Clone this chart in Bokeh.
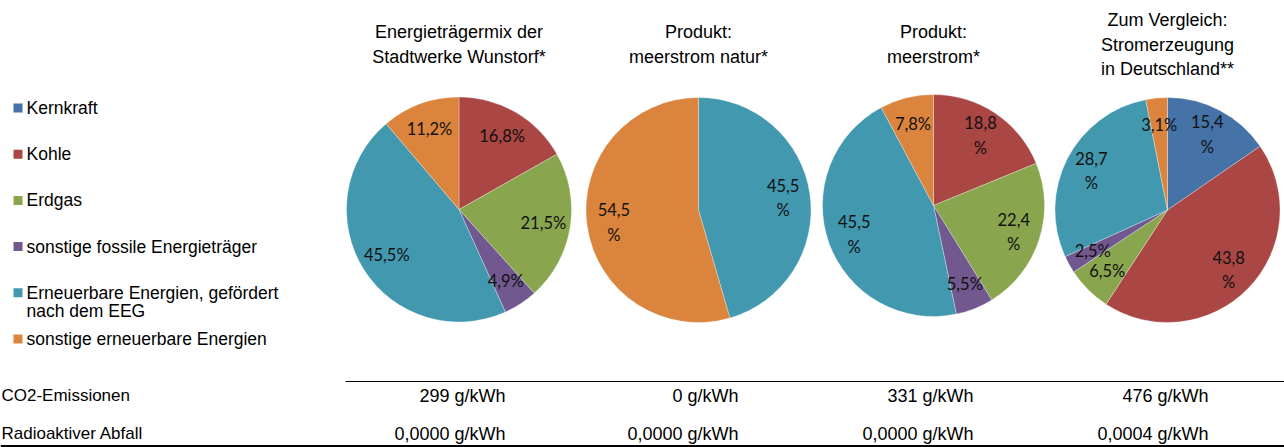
import math
from bokeh.plotting import figure
from bokeh.models import Range1d, ColumnDataSource
from bokeh.core.properties import value
from bokeh.embed import file_html
from bokeh.resources import INLINE

# ---------------- data ----------------
categories = ["Kernkraft", "Kohle", "Erdgas", "sonstige fossile Energieträger",
              "Erneuerbare Energien, gefördert\nnach dem EEG",
              "sonstige erneuerbare Energien"]
colors = ["#4572A7", "#AA4643", "#89A54E", "#71588F", "#4198AF", "#DB843D"]

titles = ["Energieträgermix der\nStadtwerke Wunstorf*",
          "Produkt:\nmeerstrom natur*",
          "Produkt:\nmeerstrom*",
          "Zum Vergleich:\nStromerzeugung\nin Deutschland**"]

mix_wunstorf = [0.0, 16.8, 21.5, 4.9, 45.5, 11.2]
meerstrom_natur = [0.0, 0.0, 0.0, 0.0, 45.5, 54.5]
meerstrom = [0.0, 18.8, 22.4, 5.5, 45.5, 7.8]
deutschland = [15.4, 43.8, 6.5, 2.5, 28.7, 3.1]

# whether the "%" of a data label wraps onto a second line
wrap_wunstorf = [False, False, False, False, False, False]
wrap_natur = [False, False, False, False, True, True]
wrap_meerstrom = [False, True, True, False, True, False]
wrap_deutschland = [True, True, False, False, True, False]

row_labels = ["CO2-Emissionen", "Radioaktiver Abfall"]
co2_values = ["299 g/kWh", "0 g/kWh", "331 g/kWh", "476 g/kWh"]
waste_values = ["0,0000 g/kWh", "0,0000 g/kWh", "0,0000 g/kWh", "0,0004 g/kWh"]

pies = [mix_wunstorf, meerstrom_natur, meerstrom, deutschland]
wraps = [wrap_wunstorf, wrap_natur, wrap_meerstrom, wrap_deutschland]

# ---------------- layout ----------------
W, H = 1284, 447
centers = [(458.5, 209.0), (698.0, 209.5), (933.0, 205.0), (1167.0, 209.5)]
radii = [112.5, 112.5, 111.0, 112.5]
label_k = 0.76
title_mid_y = 44.0
value_right_x = [505, 738, 973, 1208]
row_y = [395, 433]
row_label_x = 1

TITLE_FONT = value("Liberation Sans")
LABEL_FONT = value("Lato")


def Y(py):
    return H - py


p = figure(width=W, height=H, x_range=Range1d(0, W), y_range=Range1d(0, H),
           output_backend="svg", toolbar_location=None,
           x_axis_location=None, y_axis_location=None, min_border=0,
           background_fill_color="white", border_fill_color="white")
p.outline_line_color = None
p.grid.visible = False


def add_text_rows(xs, ys_px, texts, spacing, **kw):
    """Split multi-line strings into separate rows, centred around ys_px."""
    rx, ry, rt = [], [], []
    for x, y, t in zip(xs, ys_px, texts):
        lines = t.split("\n")
        n = len(lines)
        for i, ln in enumerate(lines):
            rx.append(x)
            ry.append(Y(y + (i - (n - 1) / 2) * spacing))
            rt.append(ln)
    src = ColumnDataSource(dict(x=rx, y=ry, text=rt))
    p.text("x", "y", text="text", source=src, **kw)


# ---------------- pies ----------------
for vals, wr, (cx, cy), r in zip(pies, wraps, centers, radii):
    total = sum(vals)
    cum = 0.0
    sx, sy, st, en, col = [], [], [], [], []
    lx, ly, lt = [], [], []
    for v, w, c in zip(vals, wr, colors):
        if v <= 0:
            continue
        f0 = cum / total
        f1 = (cum + v) / total
        cum += v
        sx.append(cx)
        sy.append(Y(cy))
        st.append(math.pi / 2 - 2 * math.pi * f0)
        en.append(math.pi / 2 - 2 * math.pi * f1)
        col.append(c)
        th = 2 * math.pi * (f0 + f1) / 2
        lx.append(cx + label_k * r * math.sin(th))
        ly.append(cy - label_k * r * math.cos(th))
        s = f"{v:.1f}".replace(".", ",")
        lt.append(s + ("\n%" if w else "%"))
    src = ColumnDataSource(dict(x=sx, y=sy, start=st, end=en, color=col))
    p.wedge(x="x", y="y", radius=r, start_angle="start", end_angle="end",
            direction="clock", fill_color="color", line_color="white",
            line_width=0.6, line_alpha=0.5, source=src)
    add_text_rows(lx, ly, lt, 25, text_font=LABEL_FONT, text_font_size="16.5px",
                  text_align="center", text_baseline="middle", text_color="#111111")

# ---------------- titles ----------------
add_text_rows([c[0] for c in centers], [title_mid_y] * 4, titles, 24.5,
              text_font=TITLE_FONT, text_font_size="18px", text_align="center",
              text_baseline="middle", text_color="#000000")

# ---------------- legend ----------------
leg_y = [107.5 + i * 46.2 for i in range(len(categories))]
p.rect(x=[17.5] * len(categories), y=[Y(v) for v in leg_y], width=9, height=9,
       fill_color=colors, line_color=None)
lrx, lry, lrt = [], [], []
for yy, cat in zip(leg_y, categories):
    for i, ln in enumerate(cat.split("\n")):
        lrx.append(26)
        lry.append(Y(yy + i * 18))
        lrt.append(ln)
p.text(x=lrx, y=lry, text=lrt, text_font=TITLE_FONT, text_font_size="17.5px",
       text_align="left", text_baseline="middle", text_color="#000000")

# ---------------- table ----------------
p.segment(x0=[345], y0=[Y(381)], x1=[W], y1=[Y(381)], line_color="black", line_width=1)
p.segment(x0=[0], y0=[Y(445.5)], x1=[W], y1=[Y(445.5)], line_color="black", line_width=2)
p.text(x=[row_label_x] * 2, y=[Y(v) for v in row_y], text=row_labels,
       text_font=TITLE_FONT, text_font_size="17px", text_align="left",
       text_baseline="middle", text_color="#000000")
for vals, yy in zip([co2_values, waste_values], row_y):
    p.text(x=value_right_x, y=[Y(yy)] * len(vals), text=vals,
           text_font=TITLE_FONT, text_font_size="18px", text_align="right",
           text_baseline="middle", text_color="#000000")

open("out.html", "w").write(file_html(p, INLINE))
